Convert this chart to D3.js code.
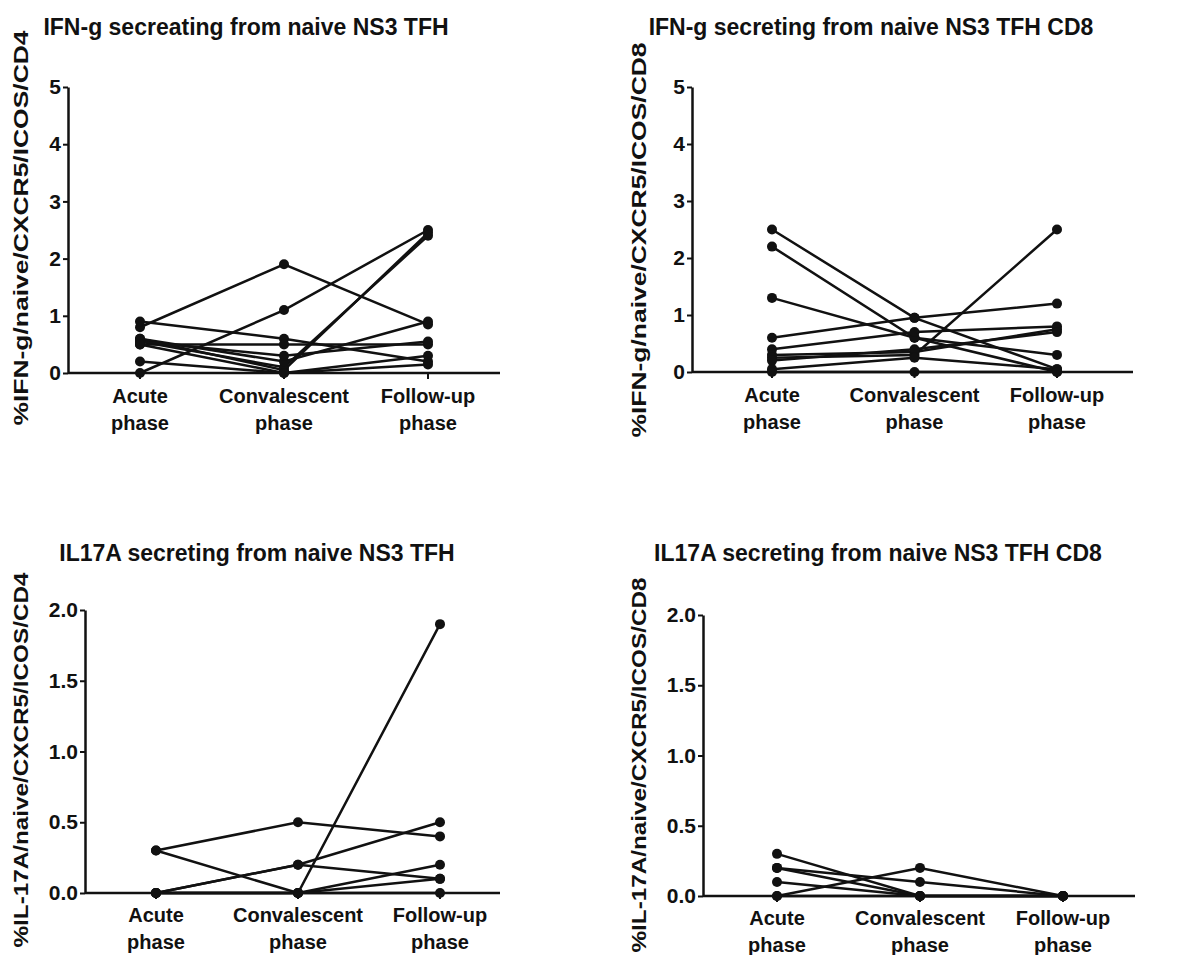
<!DOCTYPE html>
<html lang="en">
<head>
<meta charset="utf-8">
<title>NS3 TFH cytokine secretion</title>
<script src="https://cdn.jsdelivr.net/npm/d3@7"></script>
<style>
body { margin: 0; background: #fff; }
text { font-family: "Liberation Sans", Arial, Helvetica, sans-serif; font-weight: bold; fill: #111; }
.title { font-size: 23px; }
.ylab { font-size: 20px; }
.cat { font-size: 20px; }
.line { fill: none; stroke: #111; stroke-width: 2.5; }
.dot { fill: #111; }
</style>
</head>
<body>
<script>
// phases on the x axis
var categories = ["Acute|phase", "Convalescent|phase", "Follow-up|phase"];

// one row per patient: [acute, convalescent, follow-up]
var ifngCD4 = [
    [0.8, 1.9, 0.85],
    [0.0, 1.1, 2.5],
    [0.9, 0.6, 0.2],
    [0.6, 0.05, 2.45],
    [0.55, 0.1, 2.4],
    [0.5, 0.5, 0.5],
    [0.6, 0.2, 0.9],
    [0.2, 0.0, 0.3],
    [0.55, 0.3, 0.55],
    [0.5, 0.0, 0.15]
];
var ifngCD8 = [
    [2.5, 0.95, 0.05],
    [2.2, 0.6, 0.3],
    [1.3, 0.6, 0.0],
    [0.6, 0.95, 1.2],
    [0.4, 0.7, 0.8],
    [0.3, 0.35, 0.75],
    [0.25, 0.3, 2.5],
    [0.2, 0.4, 0.7],
    [0.05, 0.25, 0.05],
    [0.0, 0.0, 0.0]
];
var il17CD4 = [
    [0.3, 0.5, 0.4],
    [0.3, 0.0, 1.9],
    [0.0, 0.2, 0.5],
    [0.0, 0.2, 0.1],
    [0.0, 0.0, 0.2],
    [0.0, 0.0, 0.1],
    [0.0, 0.0, 0.0]
];
var il17CD8 = [
    [0.3, 0.0, 0.0],
    [0.2, 0.1, 0.0],
    [0.2, 0.0, 0.0],
    [0.1, 0.0, 0.0],
    [0.0, 0.2, 0.0],
    [0.0, 0.0, 0.0]
];

// tick labels
var ifngTicks = [0, 1, 2, 3, 4, 5];
var il17Ticks = [0, 0.5, 1.0, 1.5, 2.0];

var svg = d3.select("body").append("svg")
    .attr("width", 1187)
    .attr("height", 955);

var panels = [
    { data: ifngCD4, ticks: ifngTicks, fmt: d3.format("d"), max: 5,
      title: "IFN-g secreating from naive NS3 TFH", tx: 246, ty: 35,
      ylab: "%IFN-g/naive/CXCR5/ICOS/CD4", lx: 28, ly: 228, llen: 395,
      ax: 68, axEnd: 500, y0: 373, yTop: 87, c0: 140, c1: 428, cy: 403 },
    { data: ifngCD8, ticks: ifngTicks, fmt: d3.format("d"), max: 5,
      title: "IFN-g secreting from naive NS3 TFH CD8", tx: 871, ty: 35,
      ylab: "%IFN-g/naive/CXCR5/ICOS/CD8", lx: 646, ly: 240, llen: 395,
      ax: 692, axEnd: 1133, y0: 372, yTop: 87, c0: 772, c1: 1057, cy: 402 },
    { data: il17CD4, ticks: il17Ticks, fmt: d3.format(".1f"), max: 2,
      title: "IL17A secreting from naive NS3 TFH", tx: 257, ty: 561,
      ylab: "%IL-17A/naive/CXCR5/ICOS/CD4", lx: 28, ly: 760, llen: 375,
      ax: 85, axEnd: 500, y0: 893, yTop: 610, c0: 156, c1: 440, cy: 922 },
    { data: il17CD8, ticks: il17Ticks, fmt: d3.format(".1f"), max: 2,
      title: "IL17A secreting from naive NS3 TFH CD8", tx: 878, ty: 561,
      ylab: "%IL-17A/naive/CXCR5/ICOS/CD8", lx: 646, ly: 765, llen: 375,
      ax: 703, axEnd: 1135, y0: 896, yTop: 615, c0: 777, c1: 1063, cy: 925 }
];

panels.forEach(function(p) {
    var g = svg.append("g");

    var x = d3.scalePoint()
        .domain(categories)
        .range([p.c0, p.c1]);

    var y = d3.scaleLinear()
        .domain([0, p.max])
        .range([p.y0, p.yTop]);

    //title
    g.append("text")
        .attr("class", "title")
        .attr("x", p.tx)
        .attr("y", p.ty)
        .attr("text-anchor", "middle")
        .text(p.title);

    //y label
    g.append("text")
        .attr("class", "ylab")
        .attr("transform", "translate(" + p.lx + "," + p.ly + ") rotate(-90)")
        .attr("text-anchor", "middle")
        .attr("textLength", p.llen)
        .attr("lengthAdjust", "spacingAndGlyphs")
        .text(p.ylab);

    //y axis
    var yAxis = d3.axisLeft(y)
        .tickValues(p.ticks)
        .tickFormat(p.fmt)
        .tickSize(5)
        .tickPadding(2)
        .tickSizeOuter(0);

    var ya = g.append("g")
        .attr("transform", "translate(" + p.ax + ",0)")
        .call(yAxis);
    ya.attr("font-size", null).attr("font-family", null);
    ya.select(".domain").attr("stroke", "#111").attr("stroke-width", 2.5);
    ya.selectAll(".tick line").attr("stroke", "#111").attr("stroke-width", 2);
    ya.selectAll(".tick text")
        .attr("fill", "#111")
        .style("font-size", "21px");

    //x axis baseline
    g.append("line")
        .attr("x1", p.ax).attr("x2", p.axEnd)
        .attr("y1", y(0)).attr("y2", y(0))
        .attr("stroke", "#111").attr("stroke-width", 2.5);

    //x ticks
    g.selectAll(".xt")
        .data(categories)
        .enter()
        .append("line")
        .attr("x1", function(d) { return x(d); })
        .attr("x2", function(d) { return x(d); })
        .attr("y1", y(0))
        .attr("y2", y(0) + 6)
        .attr("stroke", "#111").attr("stroke-width", 2);

    //category labels, two lines
    var cats = g.selectAll(".cat")
        .data(categories)
        .enter()
        .append("text")
        .attr("class", "cat")
        .attr("text-anchor", "middle")
        .attr("x", function(d) { return x(d); })
        .attr("y", p.cy);
    cats.selectAll("tspan")
        .data(function(d) { return d.split("|").map(function(s) { return { s: s, c: d }; }); })
        .enter()
        .append("tspan")
        .attr("x", function(t) { return x(t.c); })
        .attr("dy", function(t, i) { return i ? 27 : 0; })
        .text(function(t) { return t.s; });

    //patient lines
    var line = d3.line()
        .x(function(d, i) { return x(categories[i]); })
        .y(function(d) { return y(d); });

    g.selectAll(".line")
        .data(p.data)
        .enter()
        .append("path")
        .attr("class", "line")
        .attr("d", line);

    //points
    p.data.forEach(function(row) {
        g.selectAll(null)
            .data(row)
            .enter()
            .append("circle")
            .attr("class", "dot")
            .attr("cx", function(d, i) { return x(categories[i]); })
            .attr("cy", function(d) { return y(d); })
            .attr("r", 5);
    });
});
</script>
</body>
</html>
